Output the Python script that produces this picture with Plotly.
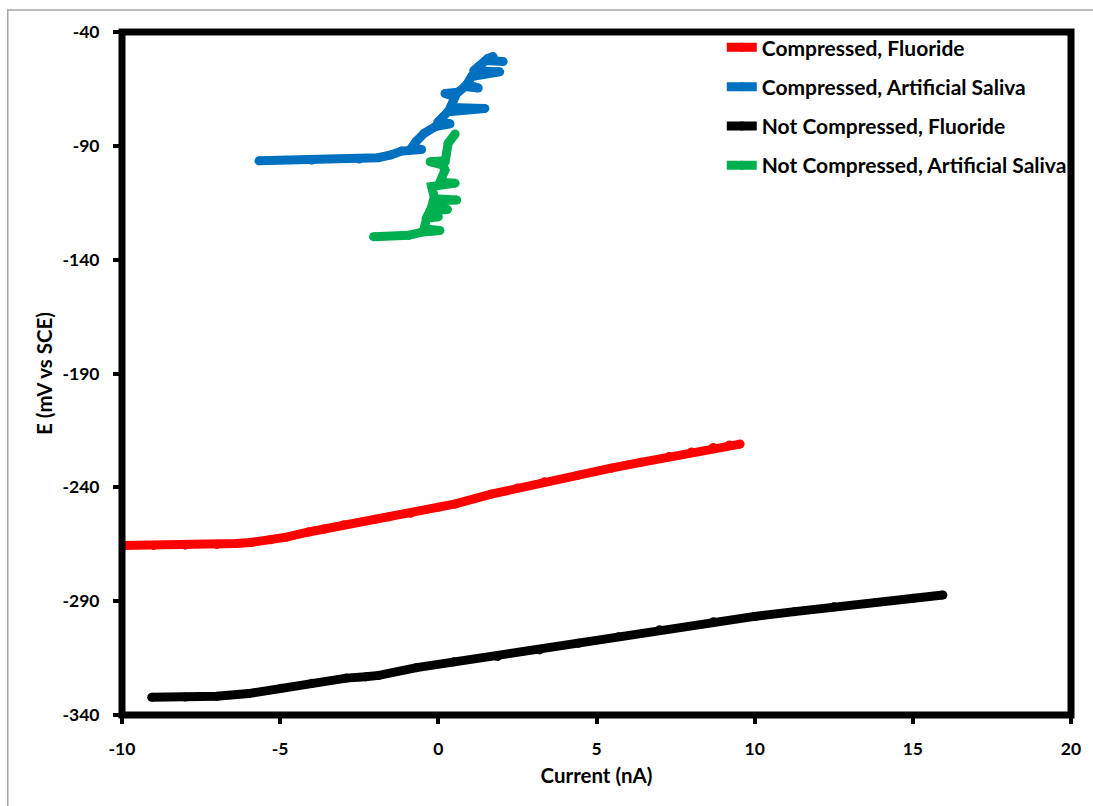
import plotly.graph_objects as go

# Compressed, Fluoride (red)
cf_current = [-10.0, -9.0, -8.0, -7.0, -6.4, -5.93, -5.3, -4.8, -4.1, -3.6, -2.98, -2.0, -1.57, -0.87, 0.0, 0.54, 1.67, 2.5, 3.35, 4.4, 5.46, 6.4, 7.29, 8.0, 8.69, 9.2, 9.54]
cf_potential = [-265.5, -265.5, -265.4, -265.1, -264.7, -264.2, -263.0, -261.9, -259.6, -258.3, -256.4, -254.0, -253.0, -251.4, -248.8, -247.3, -243.0, -240.3, -237.6, -234.7, -231.6, -229.0, -226.5, -224.5, -222.5, -221.4, -221.0]

# Compressed, Artificial Saliva (blue)
ca_current = [-5.67, -4.0, -2.5, -1.9, -1.5, -1.16, -0.53, -0.85, -0.7, -0.45, -0.10, 0.37, -0.02, 0.31, 1.47, 0.38, 0.53, 0.21, 0.62, 0.84, 1.26, 0.90, 1.05, 1.94, 1.12, 1.26, 1.57, 1.73, 1.50, 2.05]
ca_potential = [-96.6, -96.3, -95.8, -95.2, -94.0, -92.3, -91.6, -91.0, -88.0, -84.5, -81.6, -80.3, -79.6, -75.0, -73.6, -73.2, -68.4, -67.0, -66.5, -64.0, -64.6, -63.0, -59.6, -57.5, -57.0, -55.2, -51.6, -50.8, -52.5, -53.0]

# Not Compressed, Fluoride (black)
nf_current = [-9.06, -8.0, -7.0, -6.0, -4.96, -4.0, -2.91, -2.3, -1.88, -0.69, 0.5, 1.87, 3.2, 4.43, 5.7, 6.99, 8.70, 10.0, 11.26, 12.5, 13.82, 15.0, 15.95]
nf_potential = [-332.2, -332.1, -331.8, -330.6, -328.2, -326.1, -323.8, -323.2, -322.6, -319.2, -316.6, -314.3, -311.4, -308.5, -305.6, -302.6, -299.0, -296.7, -294.6, -292.5, -290.6, -288.7, -287.3]

# Not Compressed, Artificial Saliva (green)
na_current = [-2.05, -0.94, -0.55, 0.05, -0.45, -0.37, 0.0, -0.33, -0.26, 0.29, -0.22, -0.16, 0.58, -0.12, -0.21, 0.53, 0.05, 0.21, 0.15, -0.26, 0.22, 0.26, 0.31, 0.53]
na_potential = [-129.9, -129.3, -128.0, -127.2, -126.5, -121.8, -121.2, -120.5, -118.5, -118.0, -117.3, -114.2, -113.8, -113.2, -107.9, -106.4, -106.0, -100.6, -98.5, -97.0, -96.5, -93.3, -88.9, -84.8]

x_ticks = [-10, -5, 0, 5, 10, 15, 20]
y_ticks = [-40, -90, -140, -190, -240, -290, -340]

series = [
    ("Compressed, Fluoride", cf_current, cf_potential, "#FF0000"),
    ("Compressed, Artificial Saliva", ca_current, ca_potential, "#0070C0"),
    ("Not Compressed, Fluoride", nf_current, nf_potential, "#000000"),
    ("Not Compressed, Artificial Saliva", na_current, na_potential, "#00B050"),
]

FONT = "Lato"

fig = go.Figure()
for i, (name, xs, ys, col) in enumerate(series):
    fig.add_trace(go.Scatter(
        x=xs, y=ys, name=name, mode="lines+markers",
        line=dict(color=col, width=9),
        marker=dict(color=col, size=9, line=dict(width=0)),
        legendgroup="g%d" % i,
    ))

fig.update_layout(
    width=1093, height=806,
    margin=dict(l=122, r=16, t=32, b=91),
    paper_bgcolor="white", plot_bgcolor="white",
    font=dict(family=FONT, size=17, color="#000000"),
    showlegend=True,
    legend=dict(
        x=0.632, y=1.007, xanchor="left", yanchor="top",
        bgcolor="rgba(0,0,0,0)", tracegroupgap=9,
        font=dict(family=FONT, size=21, color="#000000", weight="bold"),
    ),
    xaxis=dict(
        range=[-10, 20], tickvals=x_ticks, ticktext=[str(v) for v in x_ticks],
        showgrid=False, zeroline=False, showline=False,
        ticks="outside", ticklen=8, tickwidth=4, tickcolor="black",
        ticklabelstandoff=10,
        tickfont=dict(family=FONT, size=17.5, weight="bold"),
        title=dict(text="Current (nA)", standoff=10,
                   font=dict(family=FONT, size=20.5, weight="bold")),
    ),
    yaxis=dict(
        range=[-340, -40], tickvals=y_ticks, ticktext=[str(v) for v in y_ticks],
        showgrid=False, zeroline=False, showline=False,
        ticks="outside", ticklen=8, tickwidth=4, tickcolor="black",
        ticklabelstandoff=10,
        tickfont=dict(family=FONT, size=17.5, weight="bold"),
        title=dict(text="E (mV vs SCE)", standoff=4,
                   font=dict(family=FONT, size=20.5, weight="bold")),
    ),
    shapes=[
        dict(type="rect", xref="paper", yref="paper", x0=0, x1=1, y0=0, y1=1,
             line=dict(color="black", width=7), fillcolor="rgba(0,0,0,0)", layer="above"),
        dict(type="rect", xref="paper", yref="paper", x0=-0.1204, x1=1.2, y0=-0.3, y1=1.0322,
             line=dict(color="#a6a6a6", width=1.5), fillcolor="rgba(0,0,0,0)", layer="below"),
    ],
)

fig.write_html(
    "out.html",
    config={"displayModeBar": False},
    post_script="document.body.style.margin='0px';document.body.style.overflow='hidden';",
)
